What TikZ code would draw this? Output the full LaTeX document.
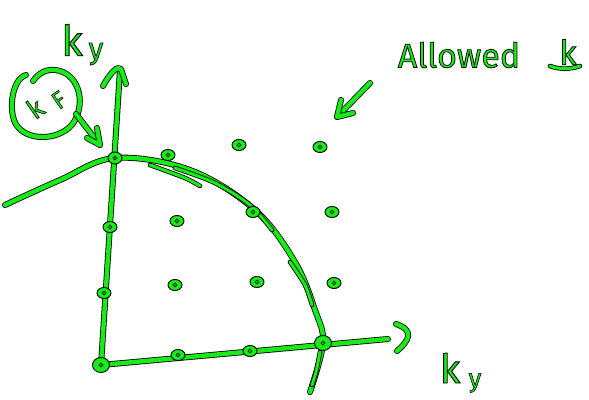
\documentclass[tikz,border=0pt]{standalone}
\usepackage{fontspec}
\setmainfont{Fira Sans}
\newfontface\handfont{Fira Sans}[FakeBold=2.2]
\usetikzlibrary{shapes.geometric}
\definecolor{hg}{RGB}{25,235,25}
\newcommand{\outl}[1]{{\handfont\special{pdf:code 0 0 0 RG}#1}}
\tikzset{
  pen/.style={draw=black, line width=0.8pt, double=hg, double distance=4.4pt, line cap=round, line join=round},
  thinpen/.style={pen, double distance=3pt},
  blob/.style={ellipse, fill=hg, draw=black, line width=0.9pt, minimum width=14pt, minimum height=11pt, inner sep=0pt,
    path picture={\draw[line width=0.7pt] (path picture bounding box.center) circle (1.8pt);}},
  lbl/.style={text=hg, inner sep=0pt},
}
\begin{document}
\begin{tikzpicture}[x=1pt,y=-1pt]
\useasboundingbox (0,0) rectangle (589,399);
% Fermi surface (hand drawn arc)
\draw[pen] plot[smooth, tension=0.6] coordinates {(5,205) (60,180) (115,158) (190,170) (255,210) (295,262) (315,310) (323,343) (310,392)};
\draw[thinpen] plot[smooth] coordinates {(175,168) (215,183) (250,205) (272,230)};
\draw[thinpen] plot[smooth] coordinates {(150,165) (185,178) (200,186)};
\draw[thinpen] plot[smooth] coordinates {(290,262) (305,285) (312,305)};
\draw[thinpen] plot[smooth] coordinates {(320,352) (316,372) (312,385)};
% axes
\coordinate (O) at (101,365);
\coordinate (ytop) at (120,70);
\coordinate (xend) at (388,339);
\draw[pen] (O) -- (ytop);
\draw[pen] (103,86) .. controls (112,70) and (118,66) .. (121,69) -- (126,84);
\draw[pen] (O) -- (xend);
\draw[pen] (396,324) .. controls (414,330) and (410,340) .. (397,351);
% grid of allowed k points
\foreach \p [count=\i] in {(168,155),(239,145),(320,147),(177,221),(253,212),(332,212),(175,285),(257,282),(334,283),(110,227),(104,293),(178,355),(250,351)}
  \node[blob] (d\i) at \p {};
\node[blob, minimum width=17pt, minimum height=15pt] (d0) at (O) {};
\node[blob, minimum width=14pt, minimum height=12pt] (iy) at (115,158) {};
\node[blob, minimum width=17pt, minimum height=15pt] (ix) at (323,343) {};
% labels
\node[lbl, font=\fontsize{42}{42}\selectfont] (ky) at (72,40) {\outl{k}};
\node[lbl, font=\fontsize{30}{30}\selectfont] (kysub) at (96,54) {\outl{y}};
\node[lbl, font=\fontsize{40}{40}\selectfont] (kx) at (450,368) {\outl{k}};
\node[lbl, font=\fontsize{26}{26}\selectfont] (kxsub) at (475,383) {\outl{y}};
\node[lbl, font=\fontsize{34}{34}\selectfont] (allowed) at (459,55) {\outl{Allowed}};
\node[lbl, font=\fontsize{34}{34}\selectfont] (kvec) at (568,52) {\outl{k}};
\draw[thinpen] (550,66) .. controls (560,70) and (572,69) .. (580,66);
% k_F circle
\node[lbl, rotate=35, font=\fontsize{27}{27}\selectfont] (kFk) at (35,108) {\outl{k}};
\node[lbl, rotate=35, font=\fontsize{24}{24}\selectfont] (kFF) at (59,100) {\outl{F}};
\draw[pen] (26,75) .. controls (10,80) and (8,117) .. (18,127) .. controls (30,142) and (62,140) .. (74,122) .. controls (87,100) and (77,72) .. (55,70) .. controls (45,69) and (38,74) .. (33,81);
% arrows
\coordinate (kFa) at (76,114);
\coordinate (kFb) at (100,145);
\draw[pen] (kFa) -- (kFb);
\draw[pen] (97,128) -- (kFb) -- (87,138);
\coordinate (ala) at (370,83);
\coordinate (alb) at (337,117);
\draw[pen] (ala) -- (alb);
\draw[pen] (341,100) -- (alb) -- (353,113);
\end{tikzpicture}
\end{document}
